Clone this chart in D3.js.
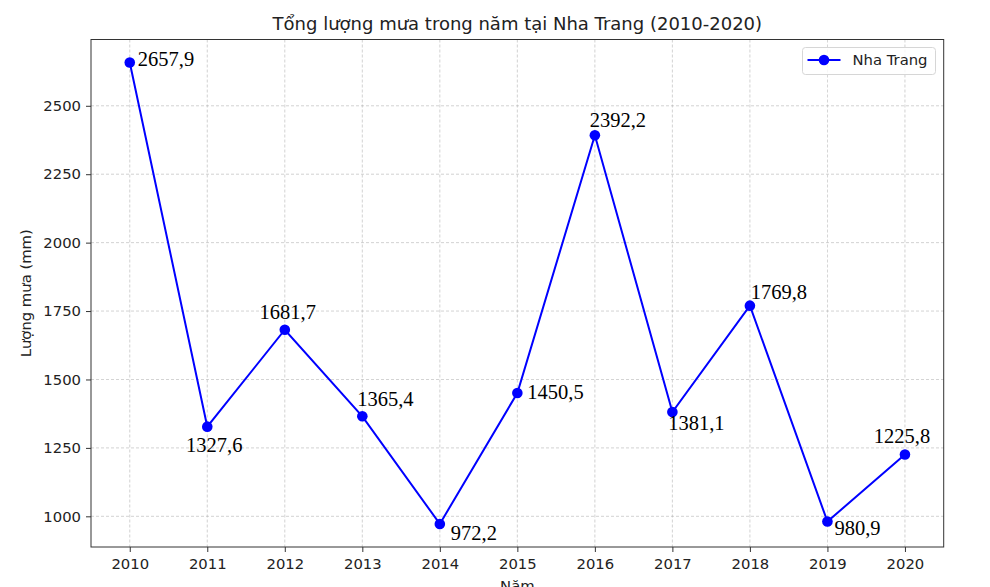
<!DOCTYPE html>
<html>
<head>
<meta charset="utf-8">
<script src="https://cdn.jsdelivr.net/npm/d3@7"></script>
<style>
  body { margin: 0; background: #fff; }
  svg { display: block; }
  .tick text { font-family: "DejaVu Sans", sans-serif; font-size: 14.8px; fill: #222; }
</style>
</head>
<body>
<div id="chart"></div>
<script>
const YEARS = [2010, 2011, 2012, 2013, 2014, 2015, 2016, 2017, 2018, 2019, 2020];
const RAINFALL = [2657.9, 1327.6, 1681.7, 1365.4, 972.2, 1450.5, 2392.2, 1381.1, 1769.8, 980.9, 1225.8];
const Y_TICKS = [1000, 1250, 1500, 1750, 2000, 2250, 2500];
const SERIES_NAME = "Nha Trang";
const TITLE = "Tổng lượng mưa trong năm tại Nha Trang (2010-2020)";
const X_LABEL = "Năm";
const Y_LABEL = "Lượng mưa (mm)";
// label nudges (px) relative to each point
const LABEL_DX = [8, 7, 3, 23, 11, 10, 23, 24, 29, 7, -3];
const LABEL_DY = [3, 25, -11, -10, 16, 6, -8, 18, -7, 13, -12];
const LABEL_ANCHOR = ["start", "middle", "middle", "middle", "start", "start", "middle", "middle", "middle", "start", "middle"];

const W = 990, H = 587;
const margin = { top: 39.5, right: 46.3, bottom: 40, left: 91 };

const svg = d3.select("#chart").append("svg").attr("width", W).attr("height", H);

const x = d3.scaleLinear()
  .domain([YEARS[0] - 0.5, YEARS[YEARS.length - 1] + 0.5])
  .range([margin.left, W - margin.right]);

const yMin = d3.min(RAINFALL), yMax = d3.max(RAINFALL);
const pad = (yMax - yMin) * 0.05;
const y = d3.scaleLinear()
  .domain([yMin - pad, yMax + pad])
  .range([H - margin.bottom, margin.top]);

// grid
const grid = svg.append("g").attr("class", "grid");
grid.selectAll(".vg").data(YEARS).enter().append("line")
  .attr("x1", d => x(d)).attr("x2", d => x(d))
  .attr("y1", margin.top).attr("y2", H - margin.bottom)
  .attr("stroke", "#b0b0b0").attr("stroke-width", 0.8).attr("stroke-dasharray", "3,2").attr("opacity", 0.7);
grid.selectAll(".hg").data(Y_TICKS).enter().append("line")
  .attr("x1", margin.left).attr("x2", W - margin.right)
  .attr("y1", d => y(d)).attr("y2", d => y(d))
  .attr("stroke", "#b0b0b0").attr("stroke-width", 0.8).attr("stroke-dasharray", "3,2").attr("opacity", 0.7);

// axes
const xAxis = svg.append("g")
  .attr("transform", `translate(0,${H - margin.bottom})`)
  .call(d3.axisBottom(x).tickValues(YEARS).tickFormat(d3.format("d")).tickSize(5).tickPadding(6).tickSizeOuter(0));
const yAxis = svg.append("g")
  .attr("transform", `translate(${margin.left},0)`)
  .call(d3.axisLeft(y).tickValues(Y_TICKS).tickFormat(d3.format("d")).tickSize(5).tickPadding(5).tickSizeOuter(0));
[xAxis, yAxis].forEach(a => {
  a.select(".domain").remove();
  a.selectAll(".tick line").attr("stroke", "#333").attr("stroke-width", 1);
});

// frame
svg.append("rect")
  .attr("x", margin.left).attr("y", margin.top)
  .attr("width", W - margin.right - margin.left)
  .attr("height", H - margin.bottom - margin.top)
  .attr("fill", "none").attr("stroke", "#333").attr("stroke-width", 1);

// line + markers
const line = d3.line().x((d, i) => x(YEARS[i])).y(d => y(d));
svg.append("path").datum(RAINFALL)
  .attr("d", line).attr("fill", "none").attr("stroke", "#0000ff").attr("stroke-width", 2);
svg.append("g").selectAll("circle").data(RAINFALL).enter().append("circle")
  .attr("cx", (d, i) => x(YEARS[i])).attr("cy", d => y(d)).attr("r", 5.3).attr("fill", "#0000ff");

// value labels
svg.append("g").selectAll("text").data(RAINFALL).enter().append("text")
  .attr("x", (d, i) => x(YEARS[i]) + LABEL_DX[i])
  .attr("y", (d, i) => y(d) + LABEL_DY[i])
  .attr("text-anchor", (d, i) => LABEL_ANCHOR[i])
  .attr("font-family", "'Liberation Serif', serif").attr("font-size", 20.5).attr("fill", "#000")
  .text(d => d.toFixed(1).replace(".", ","));

// title & axis labels
svg.append("text")
  .attr("x", (margin.left + W - margin.right) / 2).attr("y", 30)
  .attr("text-anchor", "middle")
  .attr("font-family", "'DejaVu Sans', sans-serif").attr("font-size", 18).attr("fill", "#222")
  .text(TITLE);
svg.append("text")
  .attr("x", (margin.left + W - margin.right) / 2).attr("y", 591)
  .attr("text-anchor", "middle")
  .attr("font-family", "'DejaVu Sans', sans-serif").attr("font-size", 14.8).attr("fill", "#222")
  .text(X_LABEL);
svg.append("text")
  .attr("transform", `translate(31,${(margin.top + H - margin.bottom) / 2}) rotate(-90)`)
  .attr("text-anchor", "middle")
  .attr("font-family", "'DejaVu Sans', sans-serif").attr("font-size", 14.8).attr("fill", "#222")
  .text(Y_LABEL);

// legend
const lg = svg.append("g").attr("transform", "translate(802.5,47.5)");
lg.append("rect").attr("width", 133).attr("height", 27).attr("rx", 3)
  .attr("fill", "#fff").attr("fill-opacity", 0.8).attr("stroke", "#d6d6d6");
lg.append("line").attr("x1", 5).attr("x2", 38).attr("y1", 12.5).attr("y2", 12.5)
  .attr("stroke", "#0000ff").attr("stroke-width", 2);
lg.append("circle").attr("cx", 21.5).attr("cy", 12.5).attr("r", 5.3).attr("fill", "#0000ff");
lg.append("text").attr("x", 50).attr("y", 17.5)
  .attr("font-family", "'DejaVu Sans', sans-serif").attr("font-size", 14.8).attr("fill", "#222")
  .text(SERIES_NAME);
</script>
</body>
</html>
